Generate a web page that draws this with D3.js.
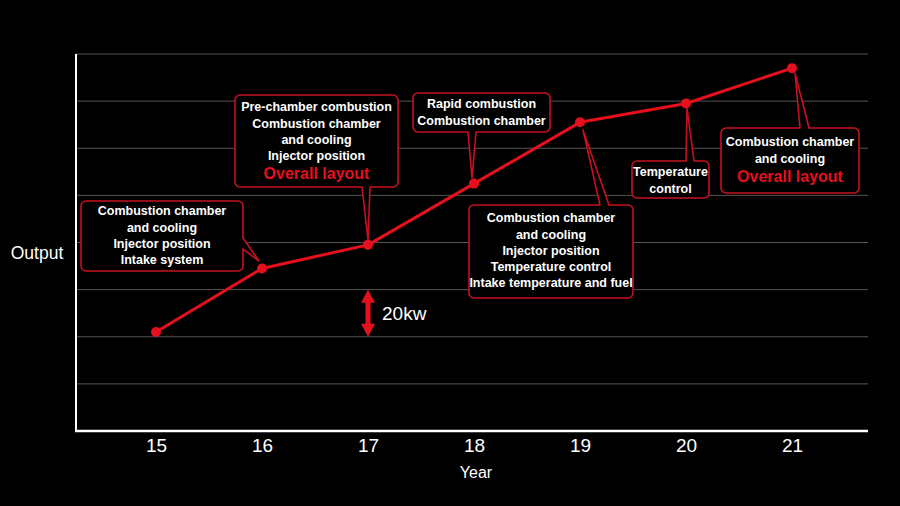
<!DOCTYPE html>
<html>
<head>
<meta charset="utf-8">
<script src="https://cdn.jsdelivr.net/npm/d3@7"></script>
<style>
  html, body { margin: 0; padding: 0; background: #000; }
  svg { display: block; }
  text { font-family: "Liberation Sans", Arial, sans-serif; }
</style>
</head>
<body>
<svg id="chart" width="900" height="506"></svg>
<script>
// ---- data ----
const years = [15, 16, 17, 18, 19, 20, 21];
const output = [42, 69, 79, 105, 131, 139, 154]; // kW
const gridValues = [20, 40, 60, 80, 100, 120, 140, 160];
const scaleBar = [40, 60]; // the "20kw" reference arrow
const scaleBarLabel = "20kw";
const xTitle = "Year";
const yTitle = "Output";

const notes = [
  { year: 16, lines: ["Combustion chamber", "and cooling", "Injector position", "Intake system"], highlight: null },
  { year: 17, lines: ["Pre-chamber combustion", "Combustion chamber", "and cooling", "Injector position"], highlight: "Overall layout" },
  { year: 18, lines: ["Rapid combustion", "Combustion chamber"], highlight: null },
  { year: 19, lines: ["Combustion chamber", "and cooling", "Injector position", "Temperature control", "Intake temperature and fuel"], highlight: null },
  { year: 20, lines: ["Temperature", "control"], highlight: null },
  { year: 21, lines: ["Combustion chamber", "and cooling"], highlight: "Overall layout" }
];

// ---- layout (positions of callout boxes) ----
const boxLayout = {
  16: { x: 81,  y: 201, w: 162, h: 70, side: "right",  base: [238, 249], tip: [259, 261], textTop: 211 },
  17: { x: 235, y: 95,  w: 163, h: 92, side: "bottom", base: [362, 370], tip: [368, 240], textTop: 107 },
  18: { x: 413, y: 93,  w: 137, h: 39, side: "bottom", base: [468, 476], tip: [472, 178], textTop: 104 },
  19: { x: 469, y: 205, w: 164, h: 93, side: "top",    base: [600, 609], tip: [583, 130], textTop: 218 },
  20: { x: 632, y: 161, w: 77,  h: 37, side: "top",    base: [686, 694], tip: [687, 108], textTop: 172 },
  21: { x: 721, y: 128, w: 138, h: 65, side: "top",    base: [800, 809], tip: [795, 73],  textTop: 142 }
};

const RED = "#e60f1e";
const BOX_RED = "#c8101f";

const svg = d3.select("#chart");
svg.append("rect").attr("width", 900).attr("height", 506).attr("fill", "#000");

const plotLeft = 76, plotRight = 868, plotTop = 54, plotBottom = 431;

const x = d3.scaleLinear().domain([15, 21]).range([156, 792]);
const y = d3.scaleLinear().domain([0, 160]).range([plotBottom, plotTop]);

// gridlines
svg.append("g")
  .selectAll("line")
  .data(gridValues)
  .join("line")
  .attr("x1", plotLeft).attr("x2", plotRight)
  .attr("y1", d => y(d)).attr("y2", d => y(d))
  .attr("stroke", "#555").attr("stroke-width", 1);

// axes lines
svg.append("line").attr("x1", plotLeft).attr("x2", plotLeft)
  .attr("y1", plotTop).attr("y2", plotBottom + 1)
  .attr("stroke", "#fff").attr("stroke-width", 2);
svg.append("line").attr("x1", plotLeft - 1).attr("x2", plotRight)
  .attr("y1", plotBottom).attr("y2", plotBottom)
  .attr("stroke", "#fff").attr("stroke-width", 2.5);

// x axis tick labels
const xAxis = d3.axisBottom(x).tickValues(years).tickSize(0).tickPadding(8).tickFormat(d3.format("d"));
const gx = svg.append("g").attr("transform", `translate(0,${plotBottom})`).call(xAxis);
gx.select(".domain").remove();
gx.selectAll("text")
  .attr("fill", "#fff")
  .attr("font-size", 19)
  .attr("font-family", "Liberation Sans, Arial, sans-serif");

// axis titles
svg.append("text").attr("x", 476).attr("y", 478).attr("text-anchor", "middle")
  .attr("fill", "#fff").attr("font-size", 16).text(xTitle);
svg.append("text").attr("x", 37).attr("y", 259).attr("text-anchor", "middle")
  .attr("fill", "#fff").attr("font-size", 17.5).text(yTitle);

// callout boxes (drawn before line so line/points overlay tips)
function calloutPath(b) {
  const r = 5;
  const { x: bx, y: by, w, h, side, base, tip } = b;
  const x2 = bx + w, y2 = by + h;
  let p = `M${bx + r},${by}`;
  if (side === "top") p += `H${base[0]}L${tip[0]},${tip[1]}L${base[1]},${by}`;
  p += `H${x2 - r}A${r},${r} 0 0 1 ${x2},${by + r}`;
  if (side === "right") p += `V${base[0]}L${tip[0]},${tip[1]}L${x2},${base[1]}`;
  p += `V${y2 - r}A${r},${r} 0 0 1 ${x2 - r},${y2}`;
  if (side === "bottom") p += `H${base[1]}L${tip[0]},${tip[1]}L${base[0]},${y2}`;
  p += `H${bx + r}A${r},${r} 0 0 1 ${bx},${y2 - r}V${by + r}A${r},${r} 0 0 1 ${bx + r},${by}Z`;
  return p;
}

const callouts = svg.append("g").selectAll("g")
  .data(notes)
  .join("g");

callouts.append("path")
  .attr("d", d => calloutPath(boxLayout[d.year]))
  .attr("fill", "#000")
  .attr("stroke", BOX_RED)
  .attr("stroke-width", 1.6)
  .attr("stroke-linejoin", "round");

callouts.each(function (d) {
  const b = boxLayout[d.year];
  const g = d3.select(this);
  const cx = b.x + b.w / 2;
  d.lines.forEach((t, i) => {
    g.append("text")
      .attr("x", cx).attr("y", b.textTop + i * 16.2)
      .attr("dy", "0.35em")
      .attr("text-anchor", "middle")
      .attr("fill", "#fff")
      .attr("font-size", 12.5)
      .attr("font-weight", "bold")
      .text(t);
  });
  if (d.highlight) {
    g.append("text")
      .attr("x", cx).attr("y", b.textTop + d.lines.length * 16.2 + 2)
      .attr("dy", "0.35em")
      .attr("text-anchor", "middle")
      .attr("fill", RED)
      .attr("font-size", 16)
      .attr("font-weight", "bold")
      .text(d.highlight);
  }
});

// line
const line = d3.line().x((d, i) => x(years[i])).y(d => y(d));
svg.append("path")
  .datum(output)
  .attr("d", line)
  .attr("fill", "none")
  .attr("stroke", RED)
  .attr("stroke-width", 3)
  .attr("stroke-linejoin", "round");

svg.append("g").selectAll("circle")
  .data(output)
  .join("circle")
  .attr("cx", (d, i) => x(years[i]))
  .attr("cy", d => y(d))
  .attr("r", 5)
  .attr("fill", RED);

// 20kw scale arrow
const ax = x(17);
const yTop = y(scaleBar[1]), yBot = y(scaleBar[0]);
const head = 13, hw = 7, sw = 2.5;
svg.append("path")
  .attr("d", `M${ax},${yTop}L${ax + hw},${yTop + head}L${ax + sw},${yTop + head}L${ax + sw},${yBot - head}L${ax + hw},${yBot - head}L${ax},${yBot}L${ax - hw},${yBot - head}L${ax - sw},${yBot - head}L${ax - sw},${yTop + head}L${ax - hw},${yTop + head}Z`)
  .attr("fill", RED);
svg.append("text").attr("x", ax + 14).attr("y", (yTop + yBot) / 2).attr("dy", "0.35em")
  .attr("fill", "#fff").attr("font-size", 19).text(scaleBarLabel);
</script>
</body>
</html>
